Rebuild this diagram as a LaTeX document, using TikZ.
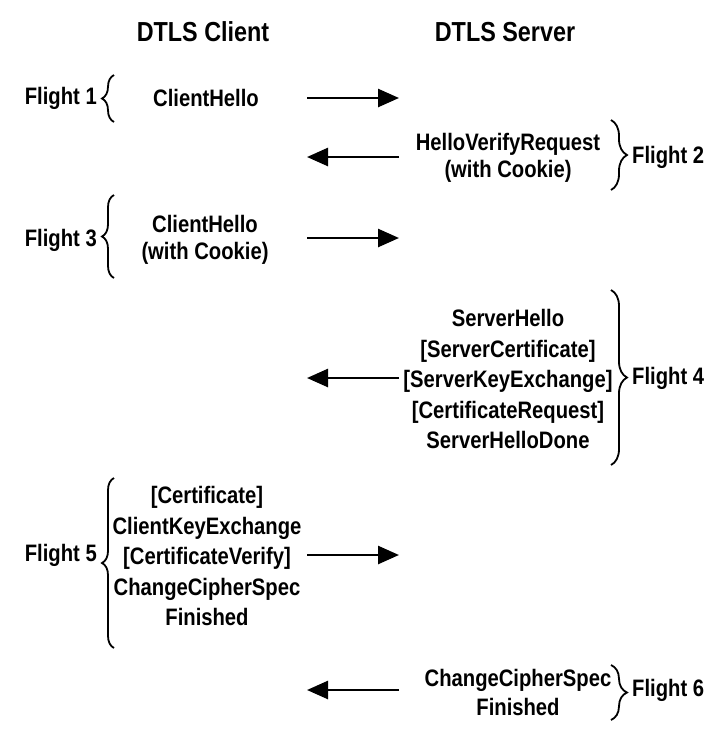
\documentclass[tikz,border=0pt]{standalone}
\usepackage{fontspec}
\setmainfont[FakeStretch=0.85]{Liberation Sans}
\usetikzlibrary{arrows.meta, decorations.pathreplacing}
\tikzstyle{title} = [font=\bfseries\fontsize{27.5}{30}\selectfont]
\tikzstyle{msg} = [align=center, inner sep=0pt, font=\bfseries\fontsize{23.8}{30.5}\selectfont]
\tikzstyle{msgtwo} = [msg, font=\bfseries\fontsize{23.8}{26.5}\selectfont]
\tikzstyle{flight} = [inner sep=0pt, font=\bfseries\fontsize{23.8}{26}\selectfont]
\tikzstyle{arrow} = [line width=2.6pt, -{Triangle[length=21pt,width=18pt]}]
\tikzstyle{lcurly} = [decorate, decoration={brace, amplitude=12pt, aspect=0.5}, line width=1.8pt]
\tikzstyle{rcurly} = [decorate, decoration={brace, amplitude=16pt, aspect=0.5}, line width=1.8pt]

\begin{document}
\begin{tikzpicture}[x=1pt, y=-1pt]
	\useasboundingbox (0,0) rectangle (716,740);

	\node (client) [title] at (203,32) {DTLS Client};
	\node (server) [title] at (505,32) {DTLS Server};

	% flight 1
	\node (f1msg) [msg] at (206,98) {ClientHello};
	\coordinate (f1a) at (307,98);
	\coordinate (f1b) at (399,98);
	\draw [arrow] (f1a) -- (f1b);
	\coordinate (f1top) at (114,75);
	\coordinate (f1bot) at (114,122);
	\draw [lcurly] (f1bot) -- (f1top);
	\node (f1) [flight, anchor=east] at (97,98) {Flight 1};

	% flight 2
	\node (f2msg) [msgtwo] at (508,158) {HelloVerifyRequest\\(with Cookie)};
	\coordinate (f2a) at (399,157);
	\coordinate (f2b) at (307,157);
	\draw [arrow] (f2a) -- (f2b);
	\coordinate (f2top) at (611,120);
	\coordinate (f2bot) at (611,190);
	\draw [rcurly] (f2top) -- (f2bot);
	\node (f2) [flight, anchor=west] at (632,157) {Flight 2};

	% flight 3
	\node (f3msg) [msgtwo] at (205,240) {ClientHello\\(with Cookie)};
	\coordinate (f3a) at (307,238);
	\coordinate (f3b) at (399,238);
	\draw [arrow] (f3a) -- (f3b);
	\coordinate (f3top) at (114,195);
	\coordinate (f3bot) at (114,278);
	\draw [lcurly] (f3bot) -- (f3top);
	\node (f3) [flight, anchor=east] at (97,240) {Flight 3};

	% flight 4
	\node (f4msg) [msg] at (508,379) {ServerHello\\{[ServerCertificate]}\\{[ServerKeyExchange]}\\{[CertificateRequest]}\\ServerHelloDone};
	\coordinate (f4a) at (399,378);
	\coordinate (f4b) at (307,378);
	\draw [arrow] (f4a) -- (f4b);
	\coordinate (f4top) at (611,290);
	\coordinate (f4bot) at (611,465);
	\draw [rcurly] (f4top) -- (f4bot);
	\node (f4) [flight, anchor=west] at (632,378) {Flight 4};

	% flight 5
	\node (f5msg) [msg] at (207,556) {{[Certificate]}\\ClientKeyExchange\\{[CertificateVerify]}\\ChangeCipherSpec\\Finished};
	\coordinate (f5a) at (307,555);
	\coordinate (f5b) at (399,555);
	\draw [arrow] (f5a) -- (f5b);
	\coordinate (f5top) at (114,478);
	\coordinate (f5bot) at (114,648);
	\draw [lcurly] (f5bot) -- (f5top);
	\node (f5) [flight, anchor=east] at (97,555) {Flight 5};

	% flight 6
	\node (f6msg) [msg, font=\bfseries\fontsize{23.8}{29}\selectfont] at (518,692) {ChangeCipherSpec\\Finished};
	\coordinate (f6a) at (399,690);
	\coordinate (f6b) at (307,690);
	\draw [arrow] (f6a) -- (f6b);
	\coordinate (f6top) at (611,665);
	\coordinate (f6bot) at (611,720);
	\draw [rcurly] (f6top) -- (f6bot);
	\node (f6) [flight, anchor=west] at (632,690) {Flight 6};

\end{tikzpicture}
\end{document}
